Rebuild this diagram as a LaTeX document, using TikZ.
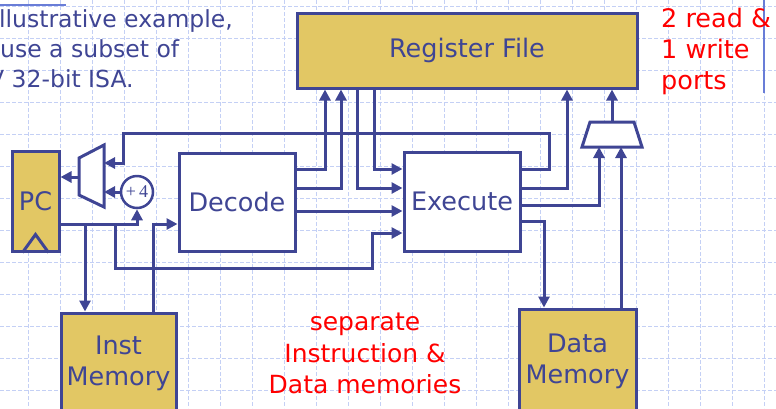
\documentclass[tikz,border=0pt]{standalone}
\usepackage{fontspec}
\setmainfont{DejaVu Sans}
\newfontfamily\plusfont{Liberation Serif}
\usepackage{tikz}
\usetikzlibrary{arrows.meta}
\usetikzlibrary{positioning}
\definecolor{wire}{RGB}{63,69,148}
\definecolor{gold}{RGB}{226,199,100}
\definecolor{gridblue}{RGB}{196,208,245}
\definecolor{slideblue}{RGB}{105,125,215}
\tikzstyle{block}=[rectangle,draw=wire,line width=3pt,fill=white,text=wire,inner sep=0pt,align=center,font=\fontsize{25.5}{31}\selectfont]
\tikzstyle{mem}=[block,fill=gold]
\tikzstyle{adder}=[circle,draw=wire,line width=2.5pt,fill=white,text=wire,inner sep=0pt,minimum size=32pt,font=\plusfont\fontsize{18}{18}\selectfont]
\tikzstyle{mux}=[draw=wire,line width=3pt,fill=white]
\tikzstyle{arrow}=[->,>={Triangle[length=11pt,width=11pt]},draw=wire,line width=3pt]
\tikzstyle{note}=[text=red,inner sep=0pt,font=\fontsize{25.5}{31}\selectfont]
\tikzstyle{intro}=[text=wire,inner sep=0pt,anchor=base west,font=\fontsize{23.5}{30}\selectfont]
\tikzstyle{gridline}=[draw=gridblue,line width=1pt,dash pattern=on 4pt off 2pt]

\begin{document}
\begin{tikzpicture}[x=1pt,y=-1pt]
      \useasboundingbox (0,0) rectangle (776,408);
      \clip (0,0) rectangle (776,408);
      % background grid
      \foreach \gx in {28,60,...,764} \draw[gridline] (\gx,0) -- (\gx,408);
      \foreach \gy in {6,38,...,390} \draw[gridline] (0,\gy) -- (776,\gy);
      \draw[slideblue,line width=1.5pt] (0,5) -- (66,5);
      \draw[slideblue,line width=2pt] (764,0) -- (764,93);

      \node[intro] at (-8,27) (intro1) {Illustrative example,};
      \node[intro] at (0,57) (intro2) {use a subset of};
      \node[intro] at (-12,87) (intro3) {V 32-bit ISA.};

      \node[mem, minimum width=340pt, minimum height=75pt] at (467,50.5) (rf) {\raisebox{-3pt}{Register File}};
      \node[mem, minimum width=47pt, minimum height=100pt] at (35.5,201) (pc) {PC};
      \draw[wire, line width=3pt] (pc.south) ++(-13,0) -- ++(13,-18) -- ++(13,18);
      \node[block, minimum width=116pt, minimum height=98pt] at (237,202) (dec) {Decode};
      \node[block, minimum width=116pt, minimum height=99pt] at (462,201.5) (ex) {Execute};
      \node[mem, minimum width=115pt, minimum height=101pt] at (118.5,363.5) (im) {Inst\\Memory};
      \node[mem, minimum width=117pt, minimum height=104pt] at (577.5,361) (dm) {Data\\Memory};
      \node[adder] at (137,192) (inc) {+\,4};

      % muxes
      \draw[mux] (79,158) -- (104,145) -- (104,207) -- (79,195) -- cycle;
      \coordinate (pcmuxo) at (79,177);
      \coordinate (pcmuxa) at (104,163);
      \coordinate (pcmuxb) at (104,192);
      \draw[mux] (582,147) -- (590,122) -- (634,122) -- (642,147) -- cycle;
      \coordinate (wmuxo) at (612,122);
      \coordinate (wmuxa) at (599,147);
      \coordinate (wmuxb) at (621,147);

      \coordinate (tapim) at (85,224);
      \coordinate (tapex) at (115,224);

      % fetch
      \draw[arrow] (pcmuxo) -- (pc.east |- pcmuxo);
      \draw[arrow] (inc.west) -- (pcmuxb);
      \draw[arrow] (pc.east |- 0,224) -| (inc.south);
      \draw[arrow] (tapim) -- (tapim |- im.north);
      \draw[arrow] (tapex) |- (372,268) |- (ex.west |- 0,233);
      \draw[arrow] (im.north -| 153,0) |- (dec.west |- 0,224);
      \draw[arrow] (ex.east |- 0,169) -| (549,133) -| (123,163) -- (pcmuxa);

      % decode and execute
      \draw[arrow] (dec.east |- 0,169) -| (rf.south -| 325,0);
      \draw[arrow] (dec.east |- 0,188) -| (rf.south -| 341,0);
      \draw[arrow] (dec.east |- 0,211) -- (ex.west |- 0,211);
      \draw[arrow] (rf.south -| 357,0) |- (ex.west |- 0,188);
      \draw[arrow] (rf.south -| 374,0) |- (ex.west |- 0,169);
      \draw[arrow] (ex.east |- 0,188) -| (rf.south -| 567,0);
      \draw[arrow] (ex.east |- 0,205) -| (wmuxa);
      \draw[arrow] (ex.east |- 0,221) -| (dm.north -| 544,0);
      \draw[arrow] (dm.north -| wmuxb) -- (wmuxb);
      \draw[arrow] (wmuxo) -- (rf.south -| wmuxo);

      \node[note, anchor=north west, align=left] at (661,8) (ports) {2 read \&\\1 write\\ports};
      \node[note, anchor=north, align=center, font=\fontsize{25}{31.5}\selectfont] at (365,313) (sepnote) {separate\\Instruction \&\\Data memories};
\end{tikzpicture}
\end{document}
